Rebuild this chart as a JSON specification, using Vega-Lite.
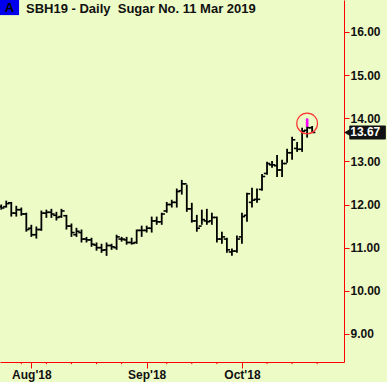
{
  "$schema": "https://vega.github.io/schema/vega-lite/v6.json",
  "width": 344,
  "height": 362,
  "autosize": {"type": "none"},
  "padding": {"left": 0, "top": 0, "right": 43, "bottom": 20},
  "background": "#EDFCC6",
  "title": {
    "text": "SBH19 - Daily\u00a0 Sugar No. 11 Mar 2019",
    "anchor": "start",
    "frame": "group",
    "dx": 26,
    "offset": -16,
    "font": "Liberation Sans",
    "fontSize": 13,
    "fontWeight": "bold",
    "color": "#111111"
  },
  "config": {
    "font": "Liberation Sans",
    "view": {"stroke": null, "fill": "#EDFCC6"}
  },
  "datasets": {
    "ohlc": [
      {"i":0,"o":11.95,"h":12.00,"l":11.88,"c":11.92},
      {"i":1,"o":11.95,"h":12.09,"l":11.93,"c":12.02},
      {"i":2,"o":12.04,"h":12.06,"l":11.72,"c":11.80},
      {"i":3,"o":11.80,"h":11.97,"l":11.72,"c":11.88},
      {"i":4,"o":11.88,"h":11.93,"l":11.74,"c":11.78},
      {"i":5,"o":11.78,"h":11.81,"l":11.37,"c":11.42},
      {"i":6,"o":11.45,"h":11.53,"l":11.25,"c":11.30},
      {"i":7,"o":11.30,"h":11.49,"l":11.21,"c":11.42},
      {"i":8,"o":11.42,"h":11.86,"l":11.39,"c":11.80},
      {"i":9,"o":11.80,"h":11.88,"l":11.69,"c":11.82},
      {"i":10,"o":11.82,"h":11.90,"l":11.69,"c":11.78},
      {"i":11,"o":11.75,"h":11.83,"l":11.63,"c":11.70},
      {"i":12,"o":11.72,"h":11.90,"l":11.69,"c":11.85},
      {"i":13,"o":11.74,"h":11.76,"l":11.42,"c":11.50},
      {"i":14,"o":11.50,"h":11.56,"l":11.25,"c":11.35},
      {"i":15,"o":11.30,"h":11.46,"l":11.25,"c":11.38},
      {"i":16,"o":11.35,"h":11.42,"l":11.12,"c":11.20},
      {"i":17,"o":11.20,"h":11.25,"l":11.12,"c":11.18},
      {"i":18,"o":11.18,"h":11.23,"l":11.02,"c":11.08},
      {"i":19,"o":11.06,"h":11.12,"l":10.93,"c":11.00},
      {"i":20,"o":11.00,"h":11.09,"l":10.88,"c":10.94},
      {"i":21,"o":10.95,"h":11.12,"l":10.81,"c":11.05},
      {"i":22,"o":11.05,"h":11.09,"l":10.95,"c":11.02},
      {"i":23,"o":11.00,"h":11.30,"l":10.95,"c":11.25},
      {"i":24,"o":11.20,"h":11.25,"l":11.14,"c":11.20},
      {"i":25,"o":11.18,"h":11.25,"l":11.07,"c":11.12},
      {"i":26,"o":11.12,"h":11.23,"l":11.07,"c":11.10},
      {"i":27,"o":11.12,"h":11.42,"l":11.09,"c":11.40},
      {"i":28,"o":11.40,"h":11.51,"l":11.25,"c":11.40},
      {"i":29,"o":11.40,"h":11.51,"l":11.35,"c":11.45},
      {"i":30,"o":11.45,"h":11.72,"l":11.35,"c":11.62},
      {"i":31,"o":11.62,"h":11.72,"l":11.53,"c":11.60},
      {"i":32,"o":11.60,"h":11.81,"l":11.53,"c":11.78},
      {"i":33,"o":11.85,"h":12.06,"l":11.81,"c":12.00},
      {"i":34,"o":12.00,"h":12.11,"l":11.93,"c":12.05},
      {"i":35,"o":12.05,"h":12.37,"l":11.93,"c":12.30},
      {"i":36,"o":12.32,"h":12.57,"l":12.23,"c":12.48},
      {"i":37,"o":12.48,"h":12.46,"l":11.83,"c":11.90},
      {"i":38,"o":11.90,"h":12.04,"l":11.58,"c":11.62},
      {"i":39,"o":11.62,"h":11.76,"l":11.37,"c":11.45},
      {"i":40,"o":11.50,"h":11.88,"l":11.53,"c":11.65},
      {"i":41,"o":11.62,"h":11.90,"l":11.53,"c":11.60},
      {"i":42,"o":11.62,"h":11.81,"l":11.53,"c":11.70},
      {"i":43,"o":11.70,"h":11.72,"l":11.12,"c":11.20},
      {"i":44,"o":11.20,"h":11.37,"l":11.09,"c":11.25},
      {"i":45,"o":11.20,"h":11.23,"l":10.88,"c":10.95},
      {"i":46,"o":10.90,"h":10.98,"l":10.81,"c":10.92},
      {"i":47,"o":10.92,"h":11.28,"l":10.88,"c":11.20},
      {"i":48,"o":11.25,"h":11.81,"l":11.09,"c":11.72},
      {"i":49,"o":11.75,"h":12.27,"l":11.60,"c":12.25},
      {"i":50,"o":12.05,"h":12.39,"l":11.93,"c":12.10},
      {"i":51,"o":12.12,"h":12.37,"l":12.04,"c":12.12},
      {"i":52,"o":12.35,"h":12.71,"l":12.32,"c":12.65},
      {"i":53,"o":12.72,"h":12.99,"l":12.69,"c":12.95},
      {"i":54,"o":12.92,"h":13.01,"l":12.85,"c":12.92},
      {"i":55,"o":12.90,"h":13.15,"l":12.64,"c":12.80},
      {"i":56,"o":12.80,"h":13.04,"l":12.64,"c":12.95},
      {"i":57,"o":12.95,"h":13.29,"l":12.97,"c":13.20},
      {"i":58,"o":13.20,"h":13.57,"l":13.04,"c":13.50},
      {"i":59,"o":13.30,"h":13.45,"l":13.22,"c":13.28},
      {"i":60,"o":13.28,"h":13.78,"l":13.22,"c":13.70},
      {"i":61,"o":13.72,"h":13.99,"l":13.55,"c":13.78},
      {"i":62,"o":13.78,"h":13.82,"l":13.67,"c":13.67}
    ],
    "minor": [{"i":4},{"i":9},{"i":14},{"i":19},{"i":24},{"i":33},{"i":38},{"i":43},{"i":53},{"i":58},{"i":63}],
    "hl": [{"i":61,"top":13.99,"bot":13.80,"cy":13.88}],
    "last": [{"price":13.67,"label":"13.67"}],
    "badge": [{"label":"A"}]
  },
  "layer": [
    {
      "data": {"name": "ohlc"},
      "mark": {"type": "rule", "color": "#000000", "strokeWidth": 1.8},
      "encoding": {
        "x": {
          "field": "i", "type": "quantitative",
          "scale": {"domain": [-0.25, 68.35], "nice": false, "zero": false},
          "axis": {
            "orient": "bottom",
            "title": null,
            "grid": false,
            "values": [6, 29, 48],
            "labelExpr": "datum.value == 6 ? \"Aug'18\" : datum.value == 29 ? \"Sep'18\" : \"Oct'18\"",
            "domainColor": "#FF0000",
            "domainWidth": 1,
            "tickColor": "#FF0000",
            "tickSize": 6,
            "labelPadding": 1,
            "labelFont": "Liberation Sans",
            "labelFontSize": 12,
            "labelFontWeight": "bold",
            "labelColor": "#111111",
            "labelOverlap": false,
            "labelFlush": false
          }
        },
        "y": {
          "field": "l", "type": "quantitative",
          "scale": {"domain": [8.35, 16.74], "nice": false, "zero": false},
          "axis": {
            "orient": "right",
            "title": null,
            "grid": false,
            "values": [9, 10, 11, 12, 13, 14, 15, 16],
            "format": ".2f",
            "domainColor": "#FF0000",
            "domainWidth": 1,
            "tickColor": "#FF0000",
            "tickSize": 5,
            "labelPadding": 1,
            "labelFont": "Liberation Sans",
            "labelFontSize": 12,
            "labelFontWeight": "bold",
            "labelColor": "#111111"
          }
        },
        "y2": {"field": "h"}
      }
    },
    {
      "data": {"name": "ohlc"},
      "mark": {"type": "tick", "orient": "horizontal", "size": 3, "thickness": 1.6, "xOffset": -1.7, "color": "#000000", "opacity": 1},
      "encoding": {
        "x": {"field": "i", "type": "quantitative"},
        "y": {"field": "o", "type": "quantitative"}
      }
    },
    {
      "data": {"name": "ohlc"},
      "mark": {"type": "tick", "orient": "horizontal", "size": 3, "thickness": 1.6, "xOffset": 1.7, "color": "#000000", "opacity": 1},
      "encoding": {
        "x": {"field": "i", "type": "quantitative"},
        "y": {"field": "c", "type": "quantitative"}
      }
    },
    {
      "data": {"name": "minor"},
      "mark": {"type": "rule", "color": "#FF0000", "strokeWidth": 1, "clip": false},
      "encoding": {
        "x": {"field": "i", "type": "quantitative"},
        "y": {"datum": 8.35, "type": "quantitative"},
        "y2": {"datum": 8.30}
      }
    },
    {
      "data": {"name": "hl"},
      "mark": {"type": "rule", "color": "#FF00FF", "strokeWidth": 2.6},
      "encoding": {
        "x": {"field": "i", "type": "quantitative"},
        "y": {"field": "top", "type": "quantitative"},
        "y2": {"field": "bot"}
      }
    },
    {
      "data": {"name": "hl"},
      "mark": {"type": "point", "shape": "circle", "size": 430, "filled": false, "stroke": "#FF3333", "strokeWidth": 1.2, "opacity": 1},
      "encoding": {
        "x": {"field": "i", "type": "quantitative"},
        "y": {"field": "cy", "type": "quantitative"}
      }
    },
    {
      "data": {"name": "last"},
      "mark": {"type": "point", "shape": "triangle-left", "size": 70, "filled": true, "color": "#111111", "opacity": 1},
      "encoding": {
        "x": {"datum": 69.1, "type": "quantitative"},
        "y": {"field": "price", "type": "quantitative"}
      }
    },
    {
      "data": {"name": "last"},
      "mark": {"type": "rect", "color": "#111111", "height": 14, "cornerRadius": 1},
      "encoding": {
        "x": {"datum": 69.4, "type": "quantitative"},
        "x2": {"datum": 76.7},
        "y": {"field": "price", "type": "quantitative"}
      }
    },
    {
      "data": {"name": "last"},
      "mark": {"type": "text", "color": "#FFFFFF", "font": "Liberation Sans", "fontSize": 12, "fontWeight": "bold", "align": "left", "baseline": "middle"},
      "encoding": {
        "x": {"datum": 69.6, "type": "quantitative"},
        "y": {"field": "price", "type": "quantitative"},
        "text": {"field": "label"}
      }
    },
    {
      "data": {"name": "badge"},
      "mark": {"type": "rect", "color": "#0000EE"},
      "encoding": {
        "x": {"datum": -0.25, "type": "quantitative"},
        "x2": {"datum": 3.55},
        "y": {"datum": 16.74, "type": "quantitative"},
        "y2": {"datum": 16.39}
      }
    },
    {
      "data": {"name": "badge"},
      "mark": {"type": "text", "color": "#000000", "font": "Liberation Sans", "fontSize": 13, "fontWeight": "bold", "align": "center", "baseline": "middle"},
      "encoding": {
        "x": {"datum": 1.65, "type": "quantitative"},
        "y": {"datum": 16.56, "type": "quantitative"},
        "text": {"field": "label"}
      }
    }
  ]
}
